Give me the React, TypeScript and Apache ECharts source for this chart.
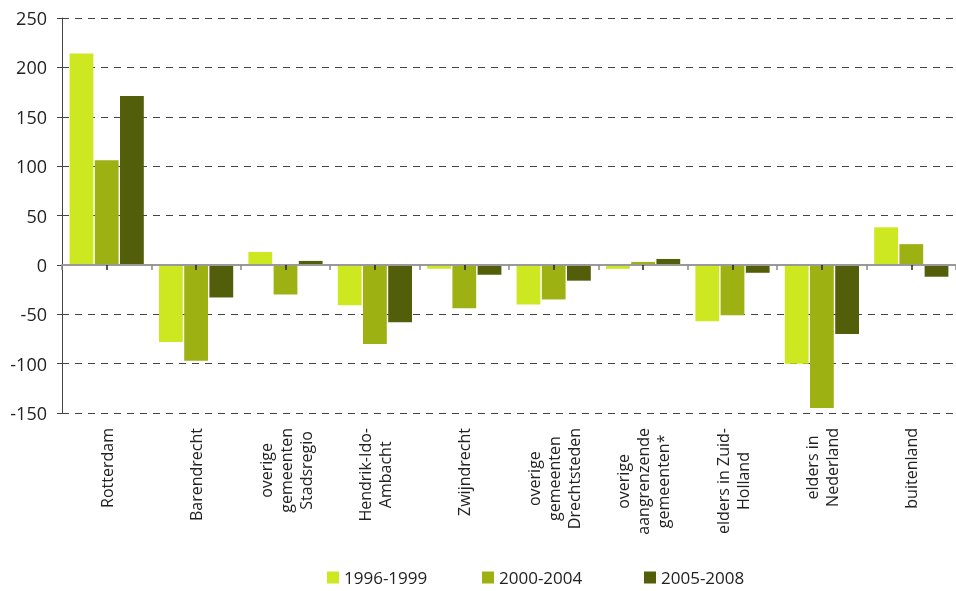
import React, { useEffect, useRef } from "react";
import * as echarts from "echarts";

const categories = [
  "Rotterdam",
  "Barendrecht",
  "overige\ngemeenten\nStadsregio",
  "Hendrik-Ido-\nAmbacht",
  "Zwijndrecht",
  "overige\ngemeenten\nDrechtsteden",
  "overige\naangrenzende\ngemeenten*",
  "elders in Zuid-\nHolland",
  "elders in\nNederland",
  "buitenland",
];
const seriesNames = ["1996-1999", "2000-2004", "2005-2008"];
const values1996 = [214, -78, 13, -41, -4, -40, -4, -57, -100, 38];
const values2000 = [106, -97, -30, -80, -44, -35, 3, -51, -145, 21];
const values2005 = [171, -33, 4, -58, -10, -16, 6, -8, -70, -12];
const colors = ["#CDE720", "#9EB113", "#525E0A"];
const FONT = "Open Sans";
const Y_MIN = -150;
const Y_MAX = 250;
const Y_STEP = 50;

export default function App() {
  const ref = useRef<HTMLDivElement>(null);
  useEffect(() => {
    if (!ref.current) return;
    const chart = echarts.init(ref.current, null, { renderer: "svg" });
    const data = [values1996, values2000, values2005];
    const legendLefts = [325, 480, 642];
    const gridBox = { left: 62, top: 18, width: 904, height: 395, containLabel: false };
    const hiddenY = (gi: number) => ({
      type: "value",
      gridIndex: gi,
      min: Y_MIN,
      max: Y_MAX,
      interval: Y_STEP,
      show: false,
      splitLine: { show: false },
    });
    chart.setOption({
      animation: false,
      textStyle: { fontFamily: FONT },
      grid: [
        { ...gridBox, z: 0 },
        { ...gridBox, z: 5 },
        { ...gridBox, z: 5 },
      ],
      legend: seriesNames.map((n, i) => ({
        data: [n],
        left: legendLefts[i],
        top: 567,
        padding: 2,
        itemWidth: 12,
        itemHeight: 12,
        icon: "rect",
        textStyle: { fontFamily: FONT, fontSize: 17, color: "#222" },
      })),
      xAxis: [
        {
          type: "category",
          gridIndex: 0,
          data: categories,
          position: "bottom",
          axisLine: { onZero: false, show: false },
          axisTick: { show: false },
          axisLabel: {
            interval: 0,
            rotate: 90,
            margin: 15,
            fontFamily: FONT,
            fontSize: 16,
            color: "#222",
            lineHeight: 20,
            formatter: (v: string) =>
              v
                .split("\n")
                .map((l) => `{c|${l}}`)
                .join("\n"),
            rich: {
              c: { align: "center", fontFamily: FONT, fontSize: 16, lineHeight: 20, color: "#222" },
            },
          },
        },
        {
          type: "category",
          gridIndex: 1,
          data: categories,
          position: "bottom",
          z: 5,
          axisLine: { onZero: true, lineStyle: { color: "#999", width: 2 } },
          axisTick: { show: true, interval: 0, alignWithLabel: false, length: 5, lineStyle: { color: "#888", width: 1.5 } },
          axisLabel: { show: false, interval: 0 },
        },
        {
          type: "category",
          gridIndex: 2,
          data: categories,
          position: "bottom",
          z: 5,
          axisLine: { onZero: true, show: false },
          axisTick: { show: true, interval: 0, alignWithLabel: true, length: 5, lineStyle: { color: "#222", width: 1.5 } },
          axisLabel: { show: false, interval: 0 },
        },
      ],
      yAxis: [
        {
          type: "value",
          gridIndex: 0,
          min: Y_MIN,
          max: Y_MAX,
          interval: Y_STEP,
          axisLine: { show: true, lineStyle: { color: "#444", width: 1 } },
          axisTick: { show: true, length: 5, lineStyle: { color: "#444" } },
          axisLabel: { fontFamily: FONT, fontSize: 18, color: "#222", margin: 15 },
          splitLine: { show: true, lineStyle: { color: "#444", type: [7, 6], width: 1 } },
        },
        hiddenY(1),
        hiddenY(2),
      ],
      series: seriesNames.map((n, i) => ({
        name: n,
        type: "bar",
        xAxisIndex: 0,
        yAxisIndex: 0,
        data: data[i],
        barCategoryGap: "17%",
        barGap: "6%",
        itemStyle: { color: colors[i] },
      })),
    });
    return () => chart.dispose();
  }, []);
  return (
    <div
      ref={ref}
      style={{ position: "fixed", left: 0, top: 0, width: 956, height: 591 }}
    />
  );
}
